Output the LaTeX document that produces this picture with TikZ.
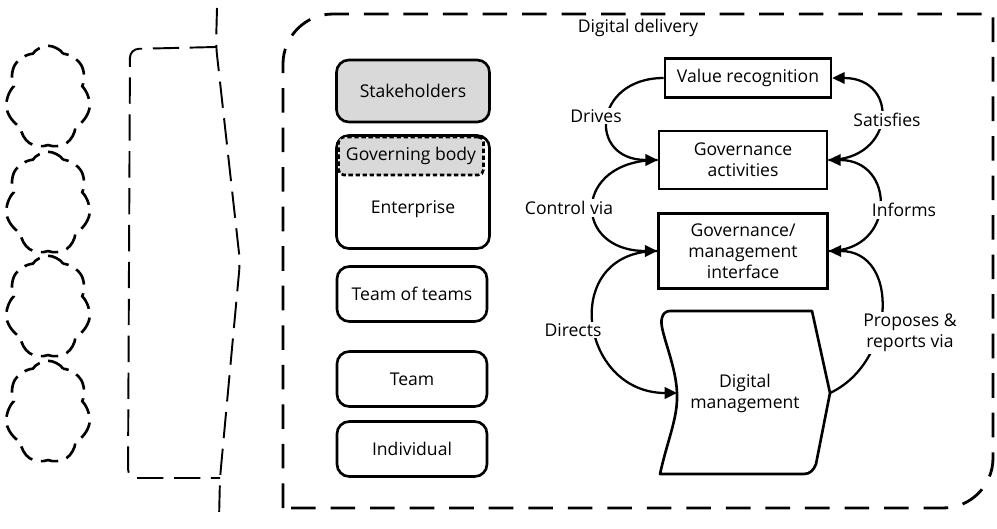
\documentclass[tikz,border=0pt]{standalone}
\usepackage{fontspec}
\setmainfont{Open Sans}
\usetikzlibrary{shapes.symbols,arrows.meta}
\definecolor{shade}{gray}{0.85}
\tikzset{
  tier/.style = {draw, line width=1.5pt, rounded corners=7pt, minimum width=3cm, minimum height=1.1cm, align=center},
  act/.style = {draw, line width=1.5pt, align=center, inner sep=2pt},
  lbl/.style = {fill=white, inner sep=1pt, align=center},
  flow/.style = {line width=1.3pt, -{Triangle[length=7pt,width=6.5pt]}},
  puff/.style = {cloud, cloud puffs=7, cloud puff arc=110, cloud ignores aspect, draw, line width=1.5pt, dash pattern=on 10pt off 5pt, minimum width=1.7cm, minimum height=2.05cm},
  frame/.style = {line width=1.6pt, dash pattern=on 14pt off 8.5pt},
  brace/.style = {line width=1.1pt, dash pattern=on 15pt off 6pt, rounded corners=5pt}
}
\begin{document}
\begin{tikzpicture}[x=0.02cm, y=0.02cm, font=\fontsize{10}{12}\selectfont]
\useasboundingbox (0,0) rectangle (997,528);

\foreach \n/\y in {1/431,2/325,3/221,4/116}
  \node[puff] (cloud\n) at (48,\y) {};

\draw[brace] (217,520) -- (216,482) -- (240,266) -- (220,50) -- (219,8);
\draw[brace] (216,481) -- (130,479) -- (128,50) -- (220,50);

\draw[frame] (283,20) -- (283,464) arc[start angle=180, end angle=90, radius=1cm] -- (993,514)
  -- (993,70) arc[start angle=0, end angle=-90, radius=1cm] -- cycle;
\node (delivery) at (638,500) {Digital delivery};

\node[tier, fill=shade, minimum width=3.06cm, minimum height=1.24cm] (stake) at (413,437) {Stakeholders};
\node[tier, minimum width=3.06cm, minimum height=2.26cm] (ent) at (413,336) {};
\node[draw, fill=shade, line width=1.5pt, dash pattern=on 2.5pt off 1.5pt, rounded corners=3pt, minimum width=2.9cm, minimum height=0.76cm] (gov) at (411,372) {Governing body};
\node (entname) at (413,319) {Enterprise};
\node[tier] (tot) at (412,234) {Team of teams};
\node[tier] (team) at (412,149) {Team};
\node[tier] (indiv) at (412,79) {Individual};

\node[act, minimum width=3.32cm, minimum height=0.78cm] (vr) at (748,450) {Value recognition};
\node[act, minimum width=3.36cm, minimum height=1.16cm] (ga) at (743,368) {Governance\\activities};
\node[act, minimum width=3.38cm, minimum height=1.5cm] (gmi) at (743,277) {Governance/\\management\\interface};
\node[minimum width=3.2cm, minimum height=3.2cm, align=center] (dm) at (745,135) {Digital\\management};
\coordinate (dmin) at (677,135);
\coordinate (dmout) at (830,135);
\draw[line width=1.5pt, line join=round] (660,54) .. controls (668,90) and (678,110) .. (dmin)
  .. controls (676,165) and (658,200) .. (662,210) to[out=80, in=180] (670,217) -- (812,217) -- (dmout)
  -- (816,64) to[out=-110, in=0] (804,54) -- cycle;

\draw[flow] (vr.west) to[out=180, in=180, looseness=2.2] (ga.west);
\draw[flow] (ga.east) to[out=0, in=0, looseness=2.1] (vr.east);
\draw[flow] (ga.west) to[out=180, in=180, looseness=2.4] (gmi.west);
\draw[flow] (gmi.east) to[out=0, in=0, looseness=1.9] (ga.east);
\draw[flow] (gmi.west) to[out=180, in=180, looseness=1.75] (dmin);
\draw[flow] (dmout) to[out=25, in=0, looseness=1.3] (gmi.east);

\node[lbl] (drives) at (596,412) {Drives};
\node[lbl] (satisfies) at (887,408) {Satisfies};
\node[lbl] (control) at (569,320) {Control via};
\node[lbl] (informs) at (904,318) {Informs};
\node[lbl] (directs) at (573,198) {Directs};
\node[lbl] (proposes) at (910,195) {Proposes \&\\reports via};
\end{tikzpicture}
\end{document}
